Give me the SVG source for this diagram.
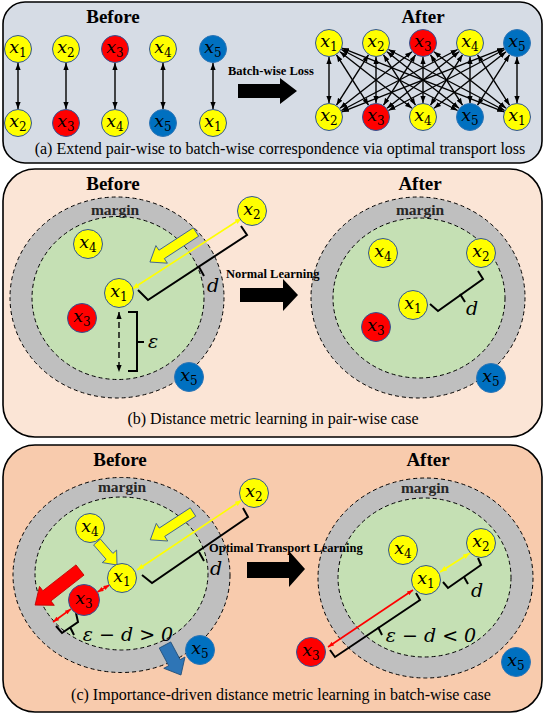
<svg xmlns="http://www.w3.org/2000/svg" width="546" height="714" viewBox="0 0 546 714">
<defs>
<style>
.panel{stroke:#000;stroke-width:1.6}
.ttl{font-family:"Liberation Serif",serif;font-weight:bold;font-size:19px;text-anchor:middle;fill:#000}
.mg{font-family:"Liberation Serif",serif;font-weight:bold;font-size:15.5px;text-anchor:middle;fill:#262626}
.lbl{font-family:"Liberation Serif",serif;font-weight:bold;font-size:12.5px;fill:#000}
.cap{font-family:"Liberation Serif",serif;font-size:16px;text-anchor:middle;fill:#000}
.math{font-family:"DejaVu Serif",serif;font-style:italic;font-size:19px;fill:#000}
.lx{font-family:"DejaVu Serif",serif;font-style:italic;font-size:17.5px;text-anchor:middle;fill:#000}
.sub{font-style:normal;font-size:12px}
.outer{fill:#bfbfbf;stroke:#000;stroke-width:1;stroke-dasharray:4 3}
.inner{fill:#c5e0b4;stroke:#000;stroke-width:1;stroke-dasharray:4 3}
.ny{fill:#ffff00;stroke:#2f5597;stroke-width:1}
.nr{fill:#ff0000;stroke:#2f5597;stroke-width:1}
.nb{fill:#0070c0;stroke:#2e75b6;stroke-width:1}
.ba{stroke:#000;stroke-width:1.4;fill:none;marker-start:url(#mk);marker-end:url(#mk)}
.ya{stroke:#ffff00;stroke-width:1.6;fill:none;marker-start:url(#mky);marker-end:url(#mky)}
.ra{stroke:#ff0000;stroke-width:1.6;fill:none;marker-start:url(#mkr);marker-end:url(#mkr)}
.brk{stroke:#000;stroke-width:2;fill:none}
.blk{fill:#000}
.yb{fill:#ffff00;stroke:#2f5597;stroke-width:0.8}
.rb{fill:#ff0000;stroke:#c00000;stroke-width:0.8}
.bb{fill:#2e75b6;stroke:#1f4e79;stroke-width:0.8}
</style>
<marker id="mk" viewBox="0 0 8 6" refX="8" refY="3" markerWidth="7" markerHeight="6" markerUnits="userSpaceOnUse" orient="auto-start-reverse"><path d="M0,0 L8,3 L0,6 z" fill="#000"/></marker>
<marker id="mky" viewBox="0 0 8 6" refX="8" refY="3" markerWidth="7" markerHeight="6" markerUnits="userSpaceOnUse" orient="auto-start-reverse"><path d="M0,0 L8,3 L0,6 z" fill="#ffff00"/></marker>
<marker id="mkr" viewBox="0 0 8 6" refX="8" refY="3" markerWidth="6" markerHeight="5" markerUnits="userSpaceOnUse" orient="auto-start-reverse"><path d="M0,0 L8,3 L0,6 z" fill="#ff0000"/></marker>
</defs>

<!-- Panels -->
<g id="panels">
<rect class="panel" x="3" y="2" width="539" height="161" rx="22" fill="#d6dce5"/>
<rect class="panel" x="3" y="169" width="539" height="268" rx="32" fill="#fbe5d6"/>
<rect class="panel" x="3" y="445" width="539" height="267" rx="32" fill="#f8cbad"/>
</g>

<!-- Region shapes -->
<g id="regions">
<ellipse class="outer" cx="117" cy="297.5" rx="107" ry="100.5"/>
<ellipse class="inner" cx="118" cy="298" rx="86" ry="81.5"/>
<ellipse class="outer" cx="418" cy="297.5" rx="107" ry="100.5"/>
<ellipse class="inner" cx="419" cy="298" rx="86" ry="80"/>
<ellipse class="outer" cx="121.5" cy="575" rx="108.5" ry="97.5"/>
<ellipse class="inner" cx="121.5" cy="573.5" rx="86.5" ry="76.5"/>
<ellipse class="outer" cx="425.5" cy="578" rx="107.5" ry="100"/>
<ellipse class="inner" cx="424.5" cy="577.5" rx="86.5" ry="79.5"/>
</g>

<!-- Texts -->
<g id="texts">
<text class="ttl" x="113" y="23">Before</text>
<text class="ttl" x="423" y="23">After</text>
<text class="ttl" x="113" y="190">Before</text>
<text class="ttl" x="420" y="190">After</text>
<text class="ttl" x="120" y="466">Before</text>
<text class="ttl" x="428" y="466">After</text>
<text class="mg" x="115" y="215">margin</text>
<text class="mg" x="420" y="215">margin</text>
<text class="mg" x="122" y="492">margin</text>
<text class="mg" x="425" y="493">margin</text>
<text class="lbl" x="228" y="75">Batch-wise Loss</text>
<text class="lbl" x="226" y="278">Normal Learning</text>
<text class="lbl" x="209" y="552">Optimal Transport Learning</text>
<text class="cap" x="280" y="154">(a) Extend pair-wise to batch-wise correspondence via optimal transport loss</text>
<text class="cap" x="273" y="424">(b) Distance metric learning in pair-wise case</text>
<text class="cap" x="281" y="700">(c) Importance-driven distance metric learning in batch-wise case</text>
<text class="math" x="213" y="292" text-anchor="middle">d</text>
<text class="math" x="153" y="348" text-anchor="middle">ε</text>
<text class="math" x="472" y="315" text-anchor="middle">d</text>
<text class="math" x="216" y="575" text-anchor="middle">d</text>
<text class="math" x="477" y="597" text-anchor="middle">d</text>
<text class="math" x="128" y="641" text-anchor="middle" font-size="18">ε − d &gt; 0</text>
<text class="math" x="431" y="642" text-anchor="middle" font-size="18">ε − d &lt; 0</text>
</g>

<!-- Connectors -->
<g id="connectors">
<!-- panel a before -->
<line class="ba" x1="18" y1="63" x2="18" y2="109"/>
<line class="ba" x1="66" y1="63" x2="66" y2="109"/>
<line class="ba" x1="115" y1="63" x2="115" y2="109"/>
<line class="ba" x1="163" y1="63" x2="163" y2="109"/>
<line class="ba" x1="213" y1="63" x2="213" y2="109"/>
<!-- panel a big arrow -->
<path class="blk" d="M238,84 L280,84 L280,78 L297,91 L280,104 L280,98 L238,98 Z"/>
<!-- panel a after: complete bipartite -->
<line class="ba" x1="329" y1="57" x2="329" y2="103"/>
<line class="ba" x1="336.5" y1="54.8" x2="368.5" y2="105.2"/>
<line class="ba" x1="340" y1="51.7" x2="412" y2="108.3"/>
<line class="ba" x1="341.4" y1="49.5" x2="457.6" y2="110.5"/>
<line class="ba" x1="342" y1="48.1" x2="504" y2="111.9"/>
<line class="ba" x1="368.5" y1="54.8" x2="336.5" y2="105.2"/>
<line class="ba" x1="376" y1="57" x2="376" y2="103"/>
<line class="ba" x1="383.5" y1="54.8" x2="415.5" y2="105.2"/>
<line class="ba" x1="387" y1="51.7" x2="459" y2="108.3"/>
<line class="ba" x1="388.4" y1="49.5" x2="504.6" y2="110.5"/>
<line class="ba" x1="412" y1="51.7" x2="340" y2="108.3"/>
<line class="ba" x1="415.5" y1="54.8" x2="383.5" y2="105.2"/>
<line class="ba" x1="423" y1="57" x2="423" y2="103"/>
<line class="ba" x1="430.5" y1="54.8" x2="462.5" y2="105.2"/>
<line class="ba" x1="434" y1="51.7" x2="506" y2="108.3"/>
<line class="ba" x1="457.6" y1="49.5" x2="341.4" y2="110.5"/>
<line class="ba" x1="459" y1="51.7" x2="387" y2="108.3"/>
<line class="ba" x1="462.5" y1="54.8" x2="430.5" y2="105.2"/>
<line class="ba" x1="470" y1="57" x2="470" y2="103"/>
<line class="ba" x1="477.5" y1="54.8" x2="509.5" y2="105.2"/>
<line class="ba" x1="504" y1="48.1" x2="342" y2="111.9"/>
<line class="ba" x1="504.6" y1="49.5" x2="388.4" y2="110.5"/>
<line class="ba" x1="506" y1="51.7" x2="434" y2="108.3"/>
<line class="ba" x1="509.5" y1="54.8" x2="477.5" y2="105.2"/>
<line class="ba" x1="517" y1="57" x2="517" y2="103"/>

<!-- panel b before -->
<path class="yb" transform="translate(196,232) rotate(146.9)" d="M0,-5 L41,-5 L41,-10.5 L55,0 L41,10.5 L41,5 L0,5 Z"/>
<line class="ya" x1="242" y1="218" x2="132" y2="289"/>
<path class="brk" d="M138,290 L148,300 L247,235 L241,226"/>
<path class="brk" d="M199,267 L204,276"/>
<line class="ba" x1="119" y1="312" x2="119" y2="372" stroke-width="1.8" stroke-dasharray="6 4"/>
<path class="brk" d="M128,312 L137,312 L137,371 L128,371 M137,342 L144,342"/>
<!-- panel b arrow -->
<path class="blk" d="M240,288 L283,288 L283,279 L298,295 L283,311 L283,302 L240,302 Z"/>
<!-- panel b after -->
<path class="brk" d="M430,304 L438,311 L483,279 L478,271"/>
<path class="brk" d="M460,294 L465,302"/>

<!-- panel c before -->
<path class="yb" transform="translate(193,512) rotate(146.9)" d="M0,-5 L37,-5 L37,-10.5 L51,0 L37,10.5 L37,5 L0,5 Z"/>
<path class="yb" transform="translate(97,542) rotate(49)" d="M0,-4.5 L19,-4.5 L19,-9.5 L30.5,0 L19,9.5 L19,4.5 L0,4.5 Z"/>
<path class="rb" transform="translate(80,570) rotate(142)" d="M0,-6.5 L42,-6.5 L42,-12 L57,0 L42,12 L42,6.5 L0,6.5 Z"/>
<path class="bb" transform="translate(165,645) rotate(62)" d="M0,-6.5 L20,-6.5 L20,-12 L34,0 L20,12 L20,6.5 L0,6.5 Z"/>
<line class="ya" x1="242" y1="500" x2="137" y2="570"/>
<path class="brk" d="M142,575 L152,583 L248,517 L243,508"/>
<path class="brk" d="M199,552 L204,561"/>
<line class="ra" x1="97.5" y1="592" x2="109.5" y2="585"/>
<line class="ra" x1="53" y1="622" x2="71" y2="609"/>
<path class="brk" d="M56,626 L62,633 L78,622 L76,613 M70,627 L74,635"/>
<!-- panel c arrow -->
<path class="blk" d="M247,562 L289,562 L289,551 L305,569 L289,587 L289,578 L247,578 Z"/>
<!-- panel c after -->
<line class="ya" x1="440" y1="572" x2="470" y2="553"/>
<path class="brk" d="M443,582 L448,588 L481,565 L478,558"/>
<path class="brk" d="M464,577 L468,584"/>
<line class="ra" x1="413" y1="590" x2="328" y2="647"/>
<path class="brk" d="M416,593 L420,600 L335,657 L330,650"/>
<path class="brk" d="M378,627 L382,635"/>
</g>

<!-- Nodes: panel a before -->
<g id="a-before-top-x1"><circle class="ny" cx="18" cy="49" r="13.5"/><text class="lx" x="18" y="53">x<tspan class="sub" dy="4">1</tspan></text></g>
<g id="a-before-top-x2"><circle class="ny" cx="66" cy="49" r="13.5"/><text class="lx" x="66" y="53">x<tspan class="sub" dy="4">2</tspan></text></g>
<g id="a-before-top-x3"><circle class="nr" cx="115" cy="49" r="13.5"/><text class="lx" x="115" y="53">x<tspan class="sub" dy="4">3</tspan></text></g>
<g id="a-before-top-x4"><circle class="ny" cx="163" cy="49" r="13.5"/><text class="lx" x="163" y="53">x<tspan class="sub" dy="4">4</tspan></text></g>
<g id="a-before-top-x5"><circle class="nb" cx="213" cy="49" r="13.5"/><text class="lx" x="213" y="53">x<tspan class="sub" dy="4">5</tspan></text></g>
<g id="a-before-bot-x2"><circle class="ny" cx="18" cy="123" r="13.5"/><text class="lx" x="18" y="127">x<tspan class="sub" dy="4">2</tspan></text></g>
<g id="a-before-bot-x3"><circle class="nr" cx="66" cy="123" r="13.5"/><text class="lx" x="66" y="127">x<tspan class="sub" dy="4">3</tspan></text></g>
<g id="a-before-bot-x4"><circle class="ny" cx="115" cy="123" r="13.5"/><text class="lx" x="115" y="127">x<tspan class="sub" dy="4">4</tspan></text></g>
<g id="a-before-bot-x5"><circle class="nb" cx="163" cy="123" r="13.5"/><text class="lx" x="163" y="127">x<tspan class="sub" dy="4">5</tspan></text></g>
<g id="a-before-bot-x1"><circle class="ny" cx="213" cy="123" r="13.5"/><text class="lx" x="213" y="127">x<tspan class="sub" dy="4">1</tspan></text></g>

<!-- Nodes: panel a after -->
<g id="a-after-top-x1"><circle class="ny" cx="329" cy="43" r="13.5"/><text class="lx" x="329" y="47">x<tspan class="sub" dy="4">1</tspan></text></g>
<g id="a-after-top-x2"><circle class="ny" cx="376" cy="43" r="13.5"/><text class="lx" x="376" y="47">x<tspan class="sub" dy="4">2</tspan></text></g>
<g id="a-after-top-x3"><circle class="nr" cx="423" cy="43" r="13.5"/><text class="lx" x="423" y="47">x<tspan class="sub" dy="4">3</tspan></text></g>
<g id="a-after-top-x4"><circle class="ny" cx="470" cy="43" r="13.5"/><text class="lx" x="470" y="47">x<tspan class="sub" dy="4">4</tspan></text></g>
<g id="a-after-top-x5"><circle class="nb" cx="517" cy="43" r="13.5"/><text class="lx" x="517" y="47">x<tspan class="sub" dy="4">5</tspan></text></g>
<g id="a-after-bot-x2"><circle class="ny" cx="329" cy="117" r="13.5"/><text class="lx" x="329" y="121">x<tspan class="sub" dy="4">2</tspan></text></g>
<g id="a-after-bot-x3"><circle class="nr" cx="376" cy="117" r="13.5"/><text class="lx" x="376" y="121">x<tspan class="sub" dy="4">3</tspan></text></g>
<g id="a-after-bot-x4"><circle class="ny" cx="423" cy="117" r="13.5"/><text class="lx" x="423" y="121">x<tspan class="sub" dy="4">4</tspan></text></g>
<g id="a-after-bot-x5"><circle class="nb" cx="470" cy="117" r="13.5"/><text class="lx" x="470" y="121">x<tspan class="sub" dy="4">5</tspan></text></g>
<g id="a-after-bot-x1"><circle class="ny" cx="517" cy="117" r="13.5"/><text class="lx" x="517" y="121">x<tspan class="sub" dy="4">1</tspan></text></g>

<!-- Nodes: panel b before -->
<g id="b-before-x2"><circle class="ny" cx="252" cy="211" r="14.5"/><text class="lx" x="252" y="215">x<tspan class="sub" dy="4">2</tspan></text></g>
<g id="b-before-x4"><circle class="ny" cx="88" cy="244" r="14.5"/><text class="lx" x="88" y="248">x<tspan class="sub" dy="4">4</tspan></text></g>
<g id="b-before-x1"><circle class="ny" cx="119" cy="293" r="14.5"/><text class="lx" x="119" y="297">x<tspan class="sub" dy="4">1</tspan></text></g>
<g id="b-before-x3"><circle class="nr" cx="82" cy="318" r="14.5"/><text class="lx" x="82" y="322">x<tspan class="sub" dy="4">3</tspan></text></g>
<g id="b-before-x5"><circle class="nb" cx="189" cy="377" r="14.5"/><text class="lx" x="189" y="381">x<tspan class="sub" dy="4">5</tspan></text></g>

<!-- Nodes: panel b after -->
<g id="b-after-x4"><circle class="ny" cx="383" cy="253" r="14.5"/><text class="lx" x="383" y="257">x<tspan class="sub" dy="4">4</tspan></text></g>
<g id="b-after-x2"><circle class="ny" cx="481" cy="253" r="14.5"/><text class="lx" x="481" y="257">x<tspan class="sub" dy="4">2</tspan></text></g>
<g id="b-after-x1"><circle class="ny" cx="413" cy="305" r="14.5"/><text class="lx" x="413" y="309">x<tspan class="sub" dy="4">1</tspan></text></g>
<g id="b-after-x3"><circle class="nr" cx="376" cy="327" r="14.5"/><text class="lx" x="376" y="331">x<tspan class="sub" dy="4">3</tspan></text></g>
<g id="b-after-x5"><circle class="nb" cx="491" cy="378" r="14.5"/><text class="lx" x="491" y="382">x<tspan class="sub" dy="4">5</tspan></text></g>

<!-- Nodes: panel c before -->
<g id="c-before-x2"><circle class="ny" cx="254" cy="493" r="14.5"/><text class="lx" x="254" y="497">x<tspan class="sub" dy="4">2</tspan></text></g>
<g id="c-before-x4"><circle class="ny" cx="90" cy="528" r="14.5"/><text class="lx" x="90" y="532">x<tspan class="sub" dy="4">4</tspan></text></g>
<g id="c-before-x1"><circle class="ny" cx="122" cy="578" r="14.5"/><text class="lx" x="122" y="582">x<tspan class="sub" dy="4">1</tspan></text></g>
<g id="c-before-x3"><circle class="nr" cx="84" cy="600" r="15.5"/><text class="lx" x="84" y="604">x<tspan class="sub" dy="4">3</tspan></text></g>
<g id="c-before-x5"><circle class="nb" cx="200" cy="650" r="14.5"/><text class="lx" x="200" y="654">x<tspan class="sub" dy="4">5</tspan></text></g>

<!-- Nodes: panel c after -->
<g id="c-after-x2"><circle class="ny" cx="481" cy="543" r="14.5"/><text class="lx" x="481" y="547">x<tspan class="sub" dy="4">2</tspan></text></g>
<g id="c-after-x4"><circle class="ny" cx="403" cy="550" r="14.5"/><text class="lx" x="403" y="554">x<tspan class="sub" dy="4">4</tspan></text></g>
<g id="c-after-x1"><circle class="ny" cx="426" cy="580" r="14.5"/><text class="lx" x="426" y="584">x<tspan class="sub" dy="4">1</tspan></text></g>
<g id="c-after-x3"><circle class="nr" cx="311" cy="652" r="14.5"/><text class="lx" x="311" y="656">x<tspan class="sub" dy="4">3</tspan></text></g>
<g id="c-after-x5"><circle class="nb" cx="516" cy="662" r="14.5"/><text class="lx" x="516" y="666">x<tspan class="sub" dy="4">5</tspan></text></g>
</svg>
